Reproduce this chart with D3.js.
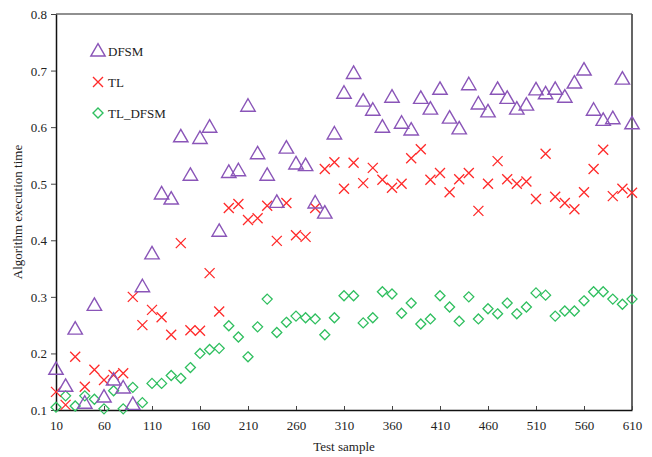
<!DOCTYPE html>
<html><head><meta charset="utf-8">
<script src="https://cdn.jsdelivr.net/npm/d3@7/dist/d3.min.js"></script>
<style>body{margin:0;background:#fff}svg{display:block}text{font-family:"Liberation Serif","Times New Roman",serif}</style>
</head><body><svg id="c" width="652" height="457"></svg>
<script>
const samples = d3.range(10, 611, 10);
const xTicks = [10,60,110,160,210,260,310,360,410,460,510,560,610];
const yTicks = [0.1,0.2,0.3,0.4,0.5,0.6,0.7,0.8];
const seriesNames = ["DFSM","TL","TL_DFSM"];
const dfsm = [0.172,0.142,0.243,0.112,0.285,0.123,0.153,0.139,0.110,0.318,0.376,0.482,0.473,0.583,0.515,0.580,0.600,0.416,0.520,0.523,
  0.637,0.553,0.515,0.467,0.563,0.535,0.532,0.466,0.448,0.588,0.660,0.695,0.646,0.630,0.600,0.653,0.607,0.595,0.651,0.632,
  0.667,0.616,0.597,0.675,0.641,0.627,0.667,0.651,0.632,0.639,0.666,0.659,0.667,0.653,0.678,0.701,0.630,0.612,0.615,0.685,0.606];
const tl = [0.132,0.109,0.194,0.141,0.171,0.153,0.162,0.165,0.300,0.250,0.277,0.264,0.233,0.395,0.241,0.240,0.342,0.274,0.457,0.464,
  0.436,0.439,0.461,0.399,0.466,0.409,0.406,0.457,0.526,0.538,0.491,0.537,0.501,0.528,0.507,0.493,0.500,0.545,0.561,0.507,
  0.519,0.485,0.508,0.519,0.452,0.500,0.540,0.508,0.500,0.504,0.473,0.553,0.477,0.466,0.455,0.485,0.526,0.560,0.478,0.491,0.484];
const tlDfsm = [0.105,0.125,0.107,0.125,0.119,0.102,0.134,0.102,0.140,0.113,0.147,0.147,0.161,0.156,0.175,0.200,0.207,0.209,0.249,0.229,
  0.194,0.247,0.296,0.237,0.255,0.266,0.263,0.261,0.233,0.263,0.302,0.302,0.254,0.263,0.309,0.305,0.271,0.289,0.252,0.261,
  0.302,0.282,0.257,0.300,0.261,0.279,0.270,0.289,0.270,0.282,0.307,0.303,0.266,0.275,0.275,0.293,0.309,0.309,0.296,0.287,0.296];

const svg = d3.select("#c");
const L = 56, R = 632, T = 14, B = 410;
const x = d3.scaleLinear().domain([10, 610]).range([L, R]);
const y = d3.scaleLinear().domain([0.1, 0.8]).range([B, T]);

// frame
svg.append("line").attr("x1",L).attr("x2",R).attr("y1",T).attr("y2",T).attr("stroke","#222").attr("stroke-width",1.2);
svg.append("line").attr("x1",R).attr("x2",R).attr("y1",T).attr("y2",B).attr("stroke","#555").attr("stroke-width",1.8);

const xAxis = svg.append("g").attr("transform",`translate(0,${B})`)
  .call(d3.axisBottom(x).tickValues(xTicks).tickSizeInner(-4).tickSizeOuter(0).tickPadding(11));
const yAxis = svg.append("g").attr("transform",`translate(${L},0)`)
  .call(d3.axisLeft(y).tickValues(yTicks).tickFormat(d3.format(".1f")).tickSizeInner(5).tickSizeOuter(0).tickPadding(4));
[xAxis,yAxis].forEach(g=>{
  g.select(".domain").attr("stroke","#111").attr("stroke-width",1.5);
  g.selectAll(".tick line").attr("stroke","#444");
  g.selectAll("text").attr("font-size",13).attr("fill","#222").attr("font-family","Liberation Serif, serif");
});
yAxis.selectAll(".tick text").attr("dy","0.35em");

svg.append("text").attr("x",(L+R)/2).attr("y",451).attr("text-anchor","middle")
  .attr("font-size",13).attr("fill","#222").text("Test sample");
svg.append("text").attr("transform",`translate(22,${(T+B)/2}) rotate(-90)`).attr("text-anchor","middle")
  .attr("font-size",13).attr("fill","#222").text("Algorithm execution time");

const purple = "#8a55b8", red = "#ff2a2a", green = "#2fbf5f";
const triPath = s => `M0,${-s*0.62}L${s*0.6},${s*0.42}L${-s*0.6},${s*0.42}Z`;
const xPath = s => `M${-s},${-s}L${s},${s}M${-s},${s}L${s},${-s}`;
const diaPath = s => `M0,${-s}L${s},0L0,${s}L${-s},0Z`;

const plot = svg.append("g");
function draw(vals, path, color, sw){
  plot.append("g").selectAll("path").data(vals).join("path")
    .attr("transform",(d,i)=>`translate(${x(samples[i])},${y(d)})`)
    .attr("d", path).attr("fill","none").attr("stroke",color).attr("stroke-width",sw);
}
draw(tlDfsm, diaPath(5), green, 1.3);
draw(tl, xPath(5), red, 1.3);
draw(dfsm, triPath(12), purple, 1.4);

// legend
const leg = svg.append("g");
const items = [[triPath(12), purple, 51], [xPath(5), red, 82], [diaPath(5), green, 113]];
items.forEach((it,i)=>{
  leg.append("path").attr("transform",`translate(98,${it[2]})`).attr("d",it[0])
    .attr("fill","none").attr("stroke",it[1]).attr("stroke-width",1.4);
  leg.append("text").attr("x",108).attr("y",it[2]).attr("dy","0.35em").attr("font-size",13)
    .attr("fill","#222").text(seriesNames[i]);
});
</script></body></html>
